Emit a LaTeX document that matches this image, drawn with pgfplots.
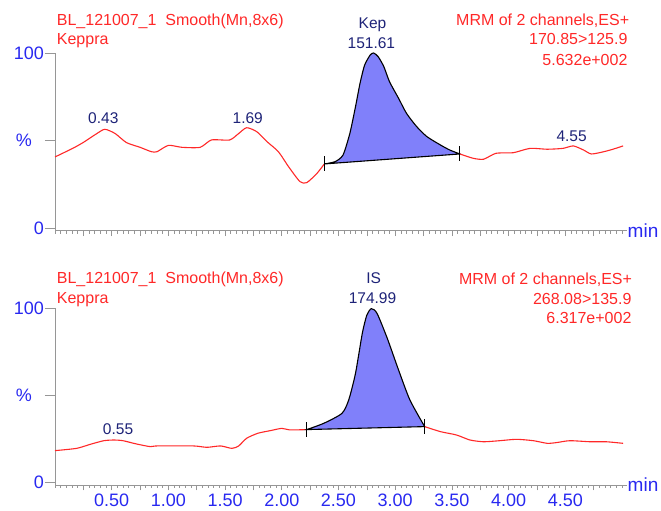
\documentclass[border=0pt]{standalone}
\usepackage{fontspec}
\setmainfont{Liberation Sans}
\usepackage{pgfplots}
\pgfplotsset{compat=1.18}

\definecolor{tracered}{RGB}{255,40,40}
\definecolor{ticklab}{RGB}{40,40,240}
\definecolor{annot}{RGB}{30,35,120}
\definecolor{peakfill}{RGB}{128,128,250}
\definecolor{axisgray}{RGB}{150,150,150}

\newcommand{\redfont}{\fontsize{16}{19}\selectfont}
\newcommand{\annfont}{\fontsize{15.5}{18}\selectfont}

\pgfplotsset{
  chrom/.style={
    scale only axis, width=571.5pt, clip=false,
    xmin=0, xmax=5.04, ymin=-1.5, ymax=100,
    axis lines=left,
    axis line style={axisgray, line width=0.8pt, -},
    tick style={axisgray, line width=0.6pt},
    tick align=outside,
    major tick length=5.5pt, minor tick length=3pt,
    ytick=\empty,
    extra y ticks={0,50,100},
    extra y tick labels={0,{\%\hspace*{12pt}},100},
    extra y tick style={major tick length=10pt,
      tick label style={font=\fontsize{18}{20}\selectfont, text=ticklab, inner sep=1pt}},
    minor ytick={10,20,30,40,60,70,80,90},
    xtick={0.25,0.5,...,4.75},
    minor xtick={0,0.05,...,5.0},
    tick label style={font=\fontsize{18}{20}\selectfont, text=ticklab},
  },
  trline/.style={color=tracered, line width=1.1pt, smooth, tension=0.4},
  pkarea/.style={draw=black, line width=1.1pt, fill=peakfill, smooth, tension=0.4},
  cutmark/.style={only marks, mark=|, mark size=7.5pt, color=black, mark options={line width=0.9pt}},
}

\begin{document}
\begin{tikzpicture}
\useasboundingbox (0,0) rectangle (661pt,-511pt);

% ---- channel 1: 170.85 > 125.9 ----
\begin{axis}[chrom, height=177.6pt, at={(55pt,-230.6pt)}, anchor=south west,
  xticklabels={}]
  \addplot[trline] coordinates {
    (0,40.6) (0.09,43.4) (0.18,46.3) (0.26,49.3) (0.37,54) (0.44,56.4)
    (0.53,54) (0.63,48.8) (0.75,46.1) (0.85,43.6) (0.90,43.6) (1.0,47.2)
    (1.12,46.1) (1.28,46.1) (1.38,50.3) (1.54,50.3) (1.62,54) (1.69,57.3)
    (1.78,55) (1.87,49.3) (1.97,43.6) (2.06,35) (2.16,26.5) (2.22,25.9)
    (2.31,31.2) (2.375,36.6)};
  \addplot[pkarea] coordinates {
    (2.375,36.6) (2.47,37.9) (2.54,41.7) (2.60,54) (2.65,69.3) (2.69,82.7)
    (2.73,93) (2.78,98.9) (2.81,100) (2.85,97.9) (2.90,92.2) (2.95,83.6)
    (3.03,74.1) (3.10,65.5) (3.19,57.9) (3.28,52.2) (3.40,47.4) (3.48,44.6)
    (3.57,42.3)} -- cycle;
  \addplot[trline] coordinates {
    (3.57,42.3) (3.69,39.8) (3.78,39.3) (3.89,42.7) (4.04,43) (4.19,45.5)
    (4.34,45) (4.48,45.5) (4.57,46.9) (4.66,44.6) (4.73,42.3) (4.84,43.6)
    (4.92,45) (5.01,46.9)};
  \addplot[cutmark] coordinates {(2.375,36.6) (3.57,42.3)};

  \node[anchor=base west, text=tracered, font=\redfont, inner sep=0] at (axis cs:0.015,116) {BL\_121007\_1\ \ Smooth(Mn,8x6)};
  \node[anchor=base west, text=tracered, font=\redfont, inner sep=0] at (axis cs:0.015,104.6) {Keppra};
  \node[anchor=base east, text=tracered, font=\redfont, inner sep=0] at (axis cs:5.065,116) {MRM of 2 channels,ES+};
  \node[anchor=base east, text=tracered, font=\redfont, inner sep=0] at (axis cs:5.05,104.6) {170.85>125.9};
  \node[anchor=base east, text=tracered, font=\redfont, inner sep=0] at (axis cs:5.05,93.1) {5.632e+002};

  \node[anchor=base, text=annot, font=\annfont, inner sep=0] at (axis cs:2.80,114.1) {Kep};
  \node[anchor=base, text=annot, font=\annfont, inner sep=0] at (axis cs:2.79,102.7) {151.61};
  \node[anchor=base, text=annot, font=\annfont, inner sep=0] at (axis cs:0.426,59.8) {0.43};
  \node[anchor=base, text=annot, font=\annfont, inner sep=0] at (axis cs:1.70,59.8) {1.69};
  \node[anchor=base, text=annot, font=\annfont, inner sep=0] at (axis cs:4.556,49.3) {4.55};

  \node[anchor=west, text=ticklab, font=\fontsize{19}{21}\selectfont, inner sep=0] at (rel axis cs:1,0) {\hspace*{1pt}min};
\end{axis}

% ---- channel 2: 268.08 > 135.9 ----
\begin{axis}[chrom, height=176.6pt, at={(55pt,-484.9pt)}, anchor=south west,
  xticklabels={,0.50,,1.00,,1.50,,2.00,,2.50,,3.00,,3.50,,4.00,,4.50,}]
  \addplot[trline] coordinates {
    (0,18.2) (0.19,19.5) (0.31,21.8) (0.43,23.9) (0.52,24.3) (0.60,23.9)
    (0.72,22) (0.84,20.5) (0.90,20.9) (1.22,20.9) (1.34,20.1) (1.46,20.9)
    (1.56,19.5) (1.62,20.9) (1.69,25.3) (1.79,28.2) (1.90,29.7) (2.00,31)
    (2.07,30.1) (2.22,30.3)};
  \addplot[pkarea] coordinates {
    (2.22,30.3) (2.37,33.9) (2.53,39.6) (2.59,47.3) (2.65,62.6) (2.71,85.6)
    (2.75,96.1) (2.79,99.8) (2.84,97.1) (2.93,82.8) (3.03,64.5) (3.13,47.3)
    (3.26,32)} -- cycle;
  \addplot[trline] coordinates {
    (3.26,32) (3.40,29.1) (3.54,27.2) (3.66,24.3) (3.78,23.3) (3.92,23.9)
    (4.07,24.7) (4.22,23.9) (4.34,22.4) (4.42,22.8) (4.54,23.9) (4.72,23.3)
    (4.86,23.3) (5.01,22.4)};
  \addplot[cutmark] coordinates {(2.22,30.3) (3.26,32)};

  \node[anchor=base west, text=tracered, font=\redfont, inner sep=0] at (axis cs:0.015,114.4) {BL\_121007\_1\ \ Smooth(Mn,8x6)};
  \node[anchor=base west, text=tracered, font=\redfont, inner sep=0] at (axis cs:0.015,102.9) {Keppra};
  \node[anchor=base east, text=tracered, font=\redfont, inner sep=0] at (axis cs:5.09,113.8) {MRM of 2 channels,ES+};
  \node[anchor=base east, text=tracered, font=\redfont, inner sep=0] at (axis cs:5.085,102.3) {268.08>135.9};
  \node[anchor=base east, text=tracered, font=\redfont, inner sep=0] at (axis cs:5.085,91) {6.317e+002};

  \node[anchor=base, text=annot, font=\annfont, inner sep=0] at (axis cs:2.81,114.4) {IS};
  \node[anchor=base, text=annot, font=\annfont, inner sep=0] at (axis cs:2.80,102.9) {174.99};
  \node[anchor=base, text=annot, font=\annfont, inner sep=0] at (axis cs:0.556,27.2) {0.55};

  \node[anchor=west, text=ticklab, font=\fontsize{19}{21}\selectfont, inner sep=0] at (rel axis cs:1,0) {\hspace*{1pt}min};
\end{axis}
\end{tikzpicture}
\end{document}
